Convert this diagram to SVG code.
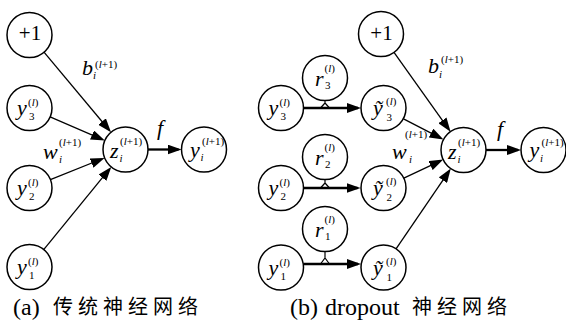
<svg xmlns="http://www.w3.org/2000/svg" width="566" height="320" viewBox="0 0 566 320" font-family="Liberation Serif, Times New Roman, serif">
  <defs>
    <marker id="ah" markerUnits="userSpaceOnUse" markerWidth="15" markerHeight="10" refX="11" refY="5" orient="auto">
      <path d="M0,0 L14,5 L0,10 Z" fill="#000"/>
    </marker>
  </defs>
  <style>
    .n{fill:#fff;stroke:#000;stroke-width:1.5}
    .m{font-style:italic;font-size:22px;fill:#000}
    .s{font-size:11px;fill:#000}
    .it{font-style:italic}
    .one{font-size:21px;text-anchor:middle;fill:#000}
    .e{stroke:#000;stroke-width:1.3;fill:none;marker-end:url(#ah)}
    .h{stroke-width:2.3}
    .hat{stroke:#000;stroke-width:1.2;fill:none}
    .cap{font-size:24px;fill:#000}
    .cjk{font-size:20px;letter-spacing:5px;fill:#000}
  </style>

  <!-- (a) standard network: connectors -->
  <g id="connectors-a">
    <line class="e" x1="44" y1="52.2" x2="109.1" y2="130"/>
    <line class="e" x1="50.1" y1="116.9" x2="102.1" y2="139.4"/>
    <line class="e" x1="50.4" y1="179.6" x2="101.8" y2="159"/>
    <line class="e" x1="43.7" y1="249.6" x2="109.4" y2="169.2"/>
    <line class="e h" x1="148" y1="149.5" x2="178.5" y2="149.5"/>
  </g>

  <!-- (b) dropout network: connectors -->
  <g id="connectors-b">
    <line class="e" x1="394" y1="52.3" x2="448.8" y2="129.3"/>
    <line class="e" x1="403.5" y1="118.9" x2="440.8" y2="138.2"/>
    <line class="e" x1="403.3" y1="178.4" x2="440.5" y2="160.9"/>
    <line class="e" x1="395.7" y1="249.4" x2="449.1" y2="171.1"/>
    <line class="e h" x1="486" y1="150" x2="518" y2="150"/>
    <line class="e h" x1="303.5" y1="108" x2="358" y2="108"/>
    <line class="e h" x1="303.5" y1="188" x2="357.5" y2="188"/>
    <line class="e h" x1="303.5" y1="264" x2="358" y2="264"/>
    <!-- mask taps from r nodes onto the arrows -->
    <path class="hat" d="M325,100.5 V103 M320.5,108 L325,103 L329.5,108"/>
    <path class="hat" d="M325,179.5 V183 M320.5,188 L325,183 L329.5,188"/>
    <path class="hat" d="M325,251.5 V258 M320.5,264 L325,258 L329.5,264"/>
  </g>

  <!-- edge labels -->
  <g id="labels">
    <text class="m" x="82" y="75">b</text>
    <text class="s" x="95" y="67.5">(<tspan class="it">l</tspan>+1)</text>
    <text class="s it" x="93" y="79">i</text>
    <text class="m" x="43" y="159">w</text>
    <text class="s" x="59" y="145.5">(<tspan class="it">l</tspan>+1)</text>
    <text class="s it" x="59" y="163">i</text>
    <text class="m" x="157" y="135">f</text>

    <text class="m" x="428" y="73">b</text>
    <text class="s" x="441" y="63">(<tspan class="it">l</tspan>+1)</text>
    <text class="s it" x="439" y="78">i</text>
    <text class="m" x="392" y="159">w</text>
    <text class="s" x="405" y="138">(<tspan class="it">l</tspan>+1)</text>
    <text class="s it" x="409" y="163">i</text>
    <text class="m" x="497" y="136">f</text>
  </g>

  <!-- (a) nodes -->
  <g id="a-bias">
    <circle class="n" cx="29.5" cy="35" r="22.5"/>
    <text class="one" x="30" y="39.5">+1</text>
  </g>
  <g id="a-y3">
    <circle class="n" cx="29.5" cy="108" r="22.5"/>
    <text class="m" x="17" y="115">y</text>
    <text class="s" x="28" y="106">(<tspan class="it">l</tspan>)</text>
    <text class="s" x="29" y="120">3</text>
  </g>
  <g id="a-y2">
    <circle class="n" cx="29.5" cy="188" r="22.5"/>
    <text class="m" x="17" y="195">y</text>
    <text class="s" x="28" y="186">(<tspan class="it">l</tspan>)</text>
    <text class="s" x="29" y="200">2</text>
  </g>
  <g id="a-y1">
    <circle class="n" cx="29.5" cy="267" r="22.5"/>
    <text class="m" x="17" y="274">y</text>
    <text class="s" x="28" y="265">(<tspan class="it">l</tspan>)</text>
    <text class="s" x="29" y="279">1</text>
  </g>
  <g id="a-z">
    <circle class="n" cx="125.5" cy="149.5" r="22.5"/>
    <text class="m" x="110" y="158">z</text>
    <text class="s" x="120" y="145">(<tspan class="it">l</tspan>+1)</text>
    <text class="s it" x="119.5" y="162">i</text>
  </g>
  <g id="a-out">
    <circle class="n" cx="204" cy="149.5" r="22.5"/>
    <text class="m" x="190" y="156.5">y</text>
    <text class="s" x="202" y="145">(<tspan class="it">l</tspan>+1)</text>
    <text class="s it" x="200.5" y="161">i</text>
  </g>

  <!-- (b) nodes -->
  <g id="b-bias">
    <circle class="n" cx="381" cy="34" r="22.5"/>
    <text class="one" x="381.5" y="39.5">+1</text>
  </g>
  <g id="b-r3">
    <circle class="n" cx="325" cy="78" r="22.5"/>
    <text class="m" x="315" y="86">r</text>
    <text class="s" x="324.5" y="72">(<tspan class="it">l</tspan>)</text>
    <text class="s" x="325" y="89">3</text>
  </g>
  <g id="b-r2">
    <circle class="n" cx="325" cy="157" r="22.5"/>
    <text class="m" x="315" y="165">r</text>
    <text class="s" x="324.5" y="151">(<tspan class="it">l</tspan>)</text>
    <text class="s" x="325" y="168">2</text>
  </g>
  <g id="b-r1">
    <circle class="n" cx="325" cy="229" r="22.5"/>
    <text class="m" x="315" y="237">r</text>
    <text class="s" x="324.5" y="223">(<tspan class="it">l</tspan>)</text>
    <text class="s" x="325" y="240">1</text>
  </g>
  <g id="b-y3">
    <circle class="n" cx="281" cy="108" r="22.5"/>
    <text class="m" x="268.5" y="115">y</text>
    <text class="s" x="279.5" y="106">(<tspan class="it">l</tspan>)</text>
    <text class="s" x="280.5" y="120">3</text>
  </g>
  <g id="b-y2">
    <circle class="n" cx="281" cy="188" r="22.5"/>
    <text class="m" x="268.5" y="195">y</text>
    <text class="s" x="279.5" y="186">(<tspan class="it">l</tspan>)</text>
    <text class="s" x="280.5" y="200">2</text>
  </g>
  <g id="b-y1">
    <circle class="n" cx="281" cy="267.5" r="22.5"/>
    <text class="m" x="268.5" y="274.5">y</text>
    <text class="s" x="279.5" y="265.5">(<tspan class="it">l</tspan>)</text>
    <text class="s" x="280.5" y="279.5">1</text>
  </g>
  <g id="b-yt3">
    <circle class="n" cx="383.5" cy="108" r="22.5"/>
    <text class="m" x="373" y="115">ỹ</text>
    <text class="s" x="386" y="105">(<tspan class="it">l</tspan>)</text>
    <text class="s" x="386.5" y="121">3</text>
  </g>
  <g id="b-yt2">
    <circle class="n" cx="383.5" cy="188" r="22.5"/>
    <text class="m" x="373" y="195">ỹ</text>
    <text class="s" x="386" y="185">(<tspan class="it">l</tspan>)</text>
    <text class="s" x="386.5" y="201">2</text>
  </g>
  <g id="b-yt1">
    <circle class="n" cx="383.5" cy="267.5" r="22.5"/>
    <text class="m" x="373" y="274.5">ỹ</text>
    <text class="s" x="386" y="264.5">(<tspan class="it">l</tspan>)</text>
    <text class="s" x="386.5" y="280.5">1</text>
  </g>
  <g id="b-z">
    <circle class="n" cx="463.5" cy="150" r="22.5"/>
    <text class="m" x="448" y="158.5">z</text>
    <text class="s" x="458" y="145.5">(<tspan class="it">l</tspan>+1)</text>
    <text class="s it" x="457.5" y="162.5">i</text>
  </g>
  <g id="b-out">
    <circle class="n" cx="543.5" cy="150" r="22.5"/>
    <text class="m" x="529.5" y="157">y</text>
    <text class="s" x="541.5" y="145.5">(<tspan class="it">l</tspan>+1)</text>
    <text class="s it" x="540" y="161.5">i</text>
  </g>

  <!-- captions -->
  <g id="captions">
    <text class="cap" x="13" y="315">(a)</text>
    <text class="cjk" x="53" y="314" font-family="Noto Sans CJK SC, sans-serif">传统神经网络</text>
    <text class="cap" x="290" y="315">(b)</text>
    <text class="cap" x="325" y="315">dropout</text>
    <text class="cjk" x="412" y="314" font-family="Noto Sans CJK SC, sans-serif">神经网络</text>
  </g>
</svg>
